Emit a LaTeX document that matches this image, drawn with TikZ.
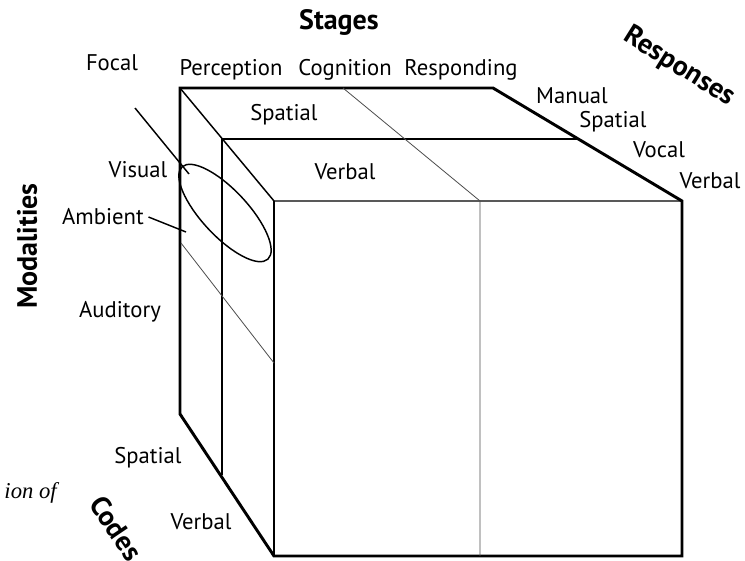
\documentclass[tikz,border=0pt]{standalone}
\usepackage{fontspec}
\setmainfont{PT Sans}
\newfontfamily\capfont{Liberation Serif}
\begin{document}
\begin{tikzpicture}[x=0.75pt,y=-0.75pt,
  lab/.style={font=\fontsize{17}{20}\selectfont},
  head/.style={font=\fontsize{21}{24}\selectfont\bfseries},
  edgeline/.style={line width=2.2pt,line join=miter},
  faceline/.style={line width=1.1pt},
  cellline/.style={line width=0.6pt,black!70}]
\useasboundingbox (0,0) rectangle (745,560);

% cube outline
\draw[edgeline] (180,88) -- (493,88) -- (682,201) -- (682,556) -- (274,556) -- (180,414) -- cycle;
\draw[faceline] (180,88) -- (274,201) -- (682,201);
\draw[faceline] (274,201) -- (274,556);
\draw[faceline] (222,475) -- (222,139) -- (578,139);

% cell dividers
\draw[cellline] (343,88) -- (480,201) -- (480,556);
\draw[cellline] (181,243) -- (274,363);

% focal / ambient ellipse
\draw[faceline] (225,213) ellipse [x radius=63, y radius=23, rotate=-47];
\coordinate (focal-a) at (135,108);
\coordinate (focal-b) at (189,174);
\draw[faceline] (focal-a) -- (focal-b);

% headings
\node[head] (stages) at (339,22) {Stages};
\node[head,rotate=90] (modalities) at (27,246) {Modalities};
\node[head,rotate=-32] (responses) at (679,67) {Responses};
\node[head,rotate=-56] (codes) at (116,528) {Codes};

% stages
\node[lab] (perception) at (231,70) {Perception};
\node[lab] (cognition) at (345,70) {Cognition};
\node[lab] (responding) at (461,70) {Responding};

% modalities
\node[lab] (focal) at (112,63) {Focal};
\node[lab] (visual) at (138,170) {Visual};
\node[lab] (ambient) at (103,217) {Ambient};
\node[lab] (auditory) at (120,312) {Auditory};
\coordinate (ambient-b) at (186,232);
\draw[faceline] (ambient.east) -- (ambient-b);

% codes
\node[lab] (top-spatial) at (284,115) {Spatial};
\node[lab] (top-verbal) at (345,172) {Verbal};
\node[lab] (code-spatial) at (148,458) {Spatial};
\node[lab] (code-verbal) at (201,522) {Verbal};

% responses
\node[lab] (manual) at (572,96) {Manual};
\node[lab] (resp-spatial) at (613,122) {Spatial};
\node[lab] (vocal) at (659,150) {Vocal};
\node[lab] (resp-verbal) at (710,181) {Verbal};

% caption fragment
\node[anchor=east,inner sep=0pt,font=\capfont\itshape\fontsize{17}{20}\selectfont] (caption) at (57,493) {ion of};
\end{tikzpicture}
\end{document}
